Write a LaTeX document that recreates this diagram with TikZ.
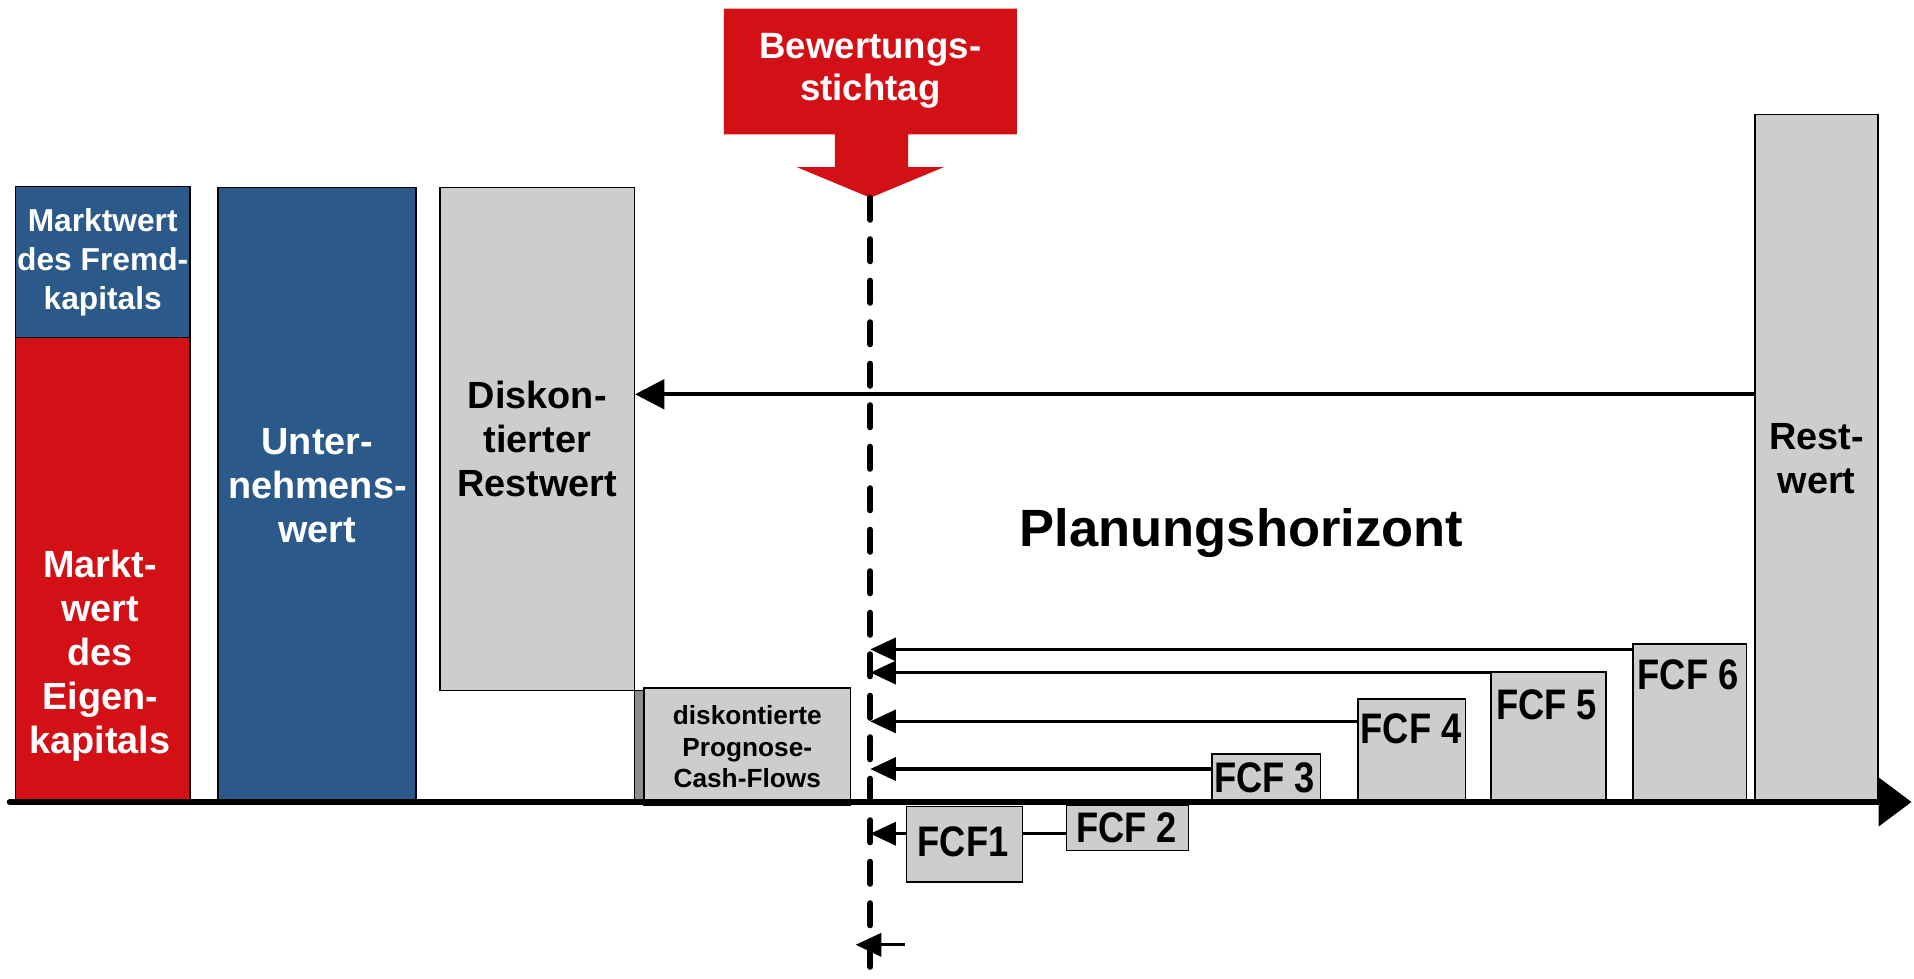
\documentclass[tikz,border=0pt]{standalone}
\usepackage{fontspec}
\setmainfont{Liberation Sans}
\newfontfamily\narrowfont[FakeStretch=0.85]{Liberation Sans}
\usetikzlibrary{arrows.meta}

\definecolor{bwred}{RGB}{210,16,22}
\definecolor{bwblue}{RGB}{43,90,138}
\definecolor{bwgrey}{RGB}{205,205,205}
\definecolor{bwdark}{RGB}{140,140,140}

\begin{document}
\begin{tikzpicture}[x=1pt,y=-1pt,
    bar/.style={draw, line width=1.3pt, inner sep=0pt, anchor=north west, align=center},
    bigtext/.style={font=\bfseries\fontsize{31}{36}\selectfont},
    fcftext/.style={font=\narrowfont\bfseries\fontsize{35}{40}\selectfont},
    fcfarrow/.style={line width=2.5pt, -{Triangle[length=21pt,width=19pt]}},
    stichline/.style={line width=5pt, line cap=round, dash pattern=on 18pt off 16pt}]

      \useasboundingbox (0,0) rectangle (1568,802);

      % Saeulen links
      \begin{scope}[every node/.style={bar}]
        \node[fill=bwblue, text=white, minimum width=143pt, minimum height=124pt,
              font=\bfseries\fontsize{26}{32}\selectfont]
              (fk) at (12,152) {Marktwert\\des Fremd-\\kapitals};
        \node[fill=bwred, minimum width=143pt, minimum height=381pt] (ek) at (12,276) {};
        \node[fill=bwblue, minimum width=162pt, minimum height=504pt] (uw) at (178,153) {};
        \node[fill=bwgrey, minimum width=159pt, minimum height=412pt, bigtext]
              (drw) at (360,153) {Diskon-\\tierter\\Restwert};
        \node[fill=bwdark, minimum width=8pt, minimum height=92pt] (strip) at (519,565) {};
        \node[fill=bwgrey, minimum width=169pt, minimum height=96pt,
              font=\bfseries\fontsize{21.5}{26}\selectfont]
              (dcf) at (527,563) {diskontierte\\Prognose-\\Cash-Flows};
      \end{scope}

      % Cash-Flows und Restwert
      \begin{scope}[every node/.style={bar, fill=bwgrey}]
        \node[minimum width=95pt,  minimum height=62pt]  (fcf1) at (742,660) {};
        \node[minimum width=100pt, minimum height=37pt]  (fcf2) at (873,659) {};
        \node[minimum width=89pt,  minimum height=40pt]  (fcf3) at (992,617) {};
        \node[minimum width=88pt,  minimum height=85pt]  (fcf4) at (1112,572) {};
        \node[minimum width=94pt,  minimum height=107pt] (fcf5) at (1221,550) {};
        \node[minimum width=93pt,  minimum height=130pt] (fcf6) at (1337,527) {};
        \node[minimum width=101pt, minimum height=564pt, bigtext] (rw) at (1437,93) {Rest-\\wert};
      \end{scope}

      \begin{scope}[every node/.style={fcftext, inner sep=0pt}]
        \node (fcf1T) at (789,690)  {FCF1};
        \node (fcf2T) at (923,678)  {FCF 2};
        \node (fcf3T) at (1036,637) {FCF 3};
        \node (fcf4T) at (1156,597) {FCF 4};
        \node (fcf5T) at (1267,577) {FCF 5};
        \node (fcf6T) at (1383,553) {FCF 6};
      \end{scope}

      \begin{scope}[every node/.style={bigtext, text=white, align=center}]
        \node (ekT) at (82,537) {Markt-\\wert\\des\\Eigen-\\kapitals};
        \node (uwT) at (260,398) {Unter-\\nehmens-\\wert};
      \end{scope}
      \node[font=\bfseries\fontsize{43}{48}\selectfont] (plan) at (1017,437) {Planungshorizont};

      % Bewertungsstichtag
      \fill[bwred] (593,7) -- (833,7) -- (833,110) -- (744,110) -- (744,137) -- (773,137)
        -- (713,162) -- (653,137) -- (684,137) -- (684,110) -- (593,110) -- cycle;
      \node[text=white, align=center, font=\bfseries\fontsize{30}{35}\selectfont]
        (stichtag) at (713,58) {Bewertungs-\\stichtag};

      \coordinate (tip) at (713,162);
      \coordinate (bottom) at (713,802);
      \coordinate (a0) at (8,657);
      \coordinate (a1) at (1566,657);

      % Zeitachse
      \draw[line width=5pt, line cap=round, -{Triangle[length=27pt,width=39pt]}] (a0) -- (a1);
      \draw[stichline] (tip) -- (bottom);

      % Diskontierung
      \coordinate (ry) at (0,323);
      \draw[line width=3.5pt, -{Triangle[length=24pt,width=24pt]}] (rw.west |- ry) -- (drw.east |- ry);

      \coordinate (t6) at (713,532);
      \coordinate (t5) at (713,551);
      \coordinate (t4) at (713,591);
      \coordinate (t3) at (713,630);
      \coordinate (t1) at (713,683);
      \coordinate (t0) at (701,774);
      \coordinate (s0) at (741,774);

      \draw[fcfarrow] (fcf6.west |- t6) -- (t6);
      \draw[fcfarrow] (fcf5.west |- t5) -- (t5);
      \draw[fcfarrow] (fcf4.west |- t4) -- (t4);
      \draw[fcfarrow] (fcf3.west |- t3) -- (t3);
      \draw[fcfarrow] (fcf1.west |- t1) -- (t1);
      \draw[line width=2pt] (fcf2.west |- t1) -- (fcf1.east |- t1);
      \draw[fcfarrow] (s0) -- (t0);

    \end{tikzpicture}
\end{document}
